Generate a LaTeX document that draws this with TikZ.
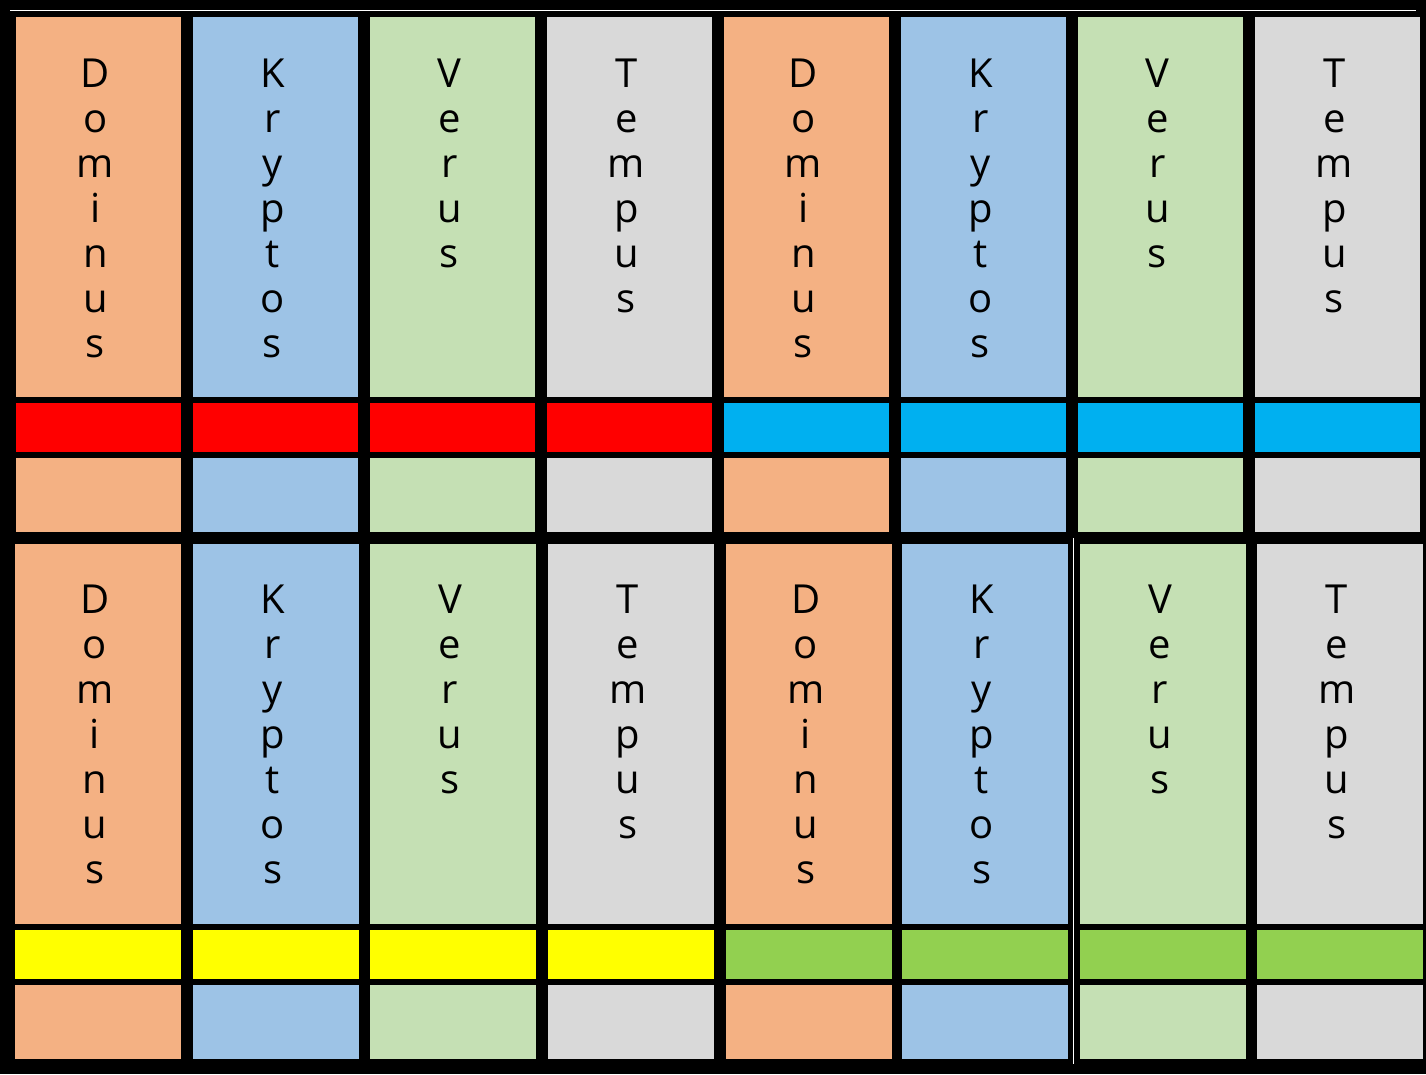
\documentclass[tikz,border=0pt]{standalone}
\usepackage{fontspec}
\setmainfont{Open Sans}
\definecolor{cor}{HTML}{F4B183}
\definecolor{cbl}{HTML}{9DC3E6}
\definecolor{cgr}{HTML}{C5E0B4}
\definecolor{cgy}{HTML}{D9D9D9}
\definecolor{cred}{HTML}{FF0000}
\definecolor{ccy}{HTML}{00B0F0}
\definecolor{cye}{HTML}{FFFF00}
\definecolor{clg}{HTML}{92D050}
\tikzset{
  blk/.style={rectangle, draw=none, inner sep=0pt, outer sep=0pt},
  ltr/.style={inner sep=0pt, outer sep=0pt, text=black, font=\fontsize{40}{45}\selectfont, anchor=base},
  wline/.style={draw=white, line width=1.3pt}
}
\begin{document}
\begin{tikzpicture}[x=1pt,y=-1pt]
\useasboundingbox (0,0) rectangle (1426,1074);
\fill[black] (0,0) rectangle (1426,1074);
% top row
\foreach \k/\x/\word/\fc/\bc in {
  0/16/{D,o,m,i,n,u,s}/cor/cred,
  1/193/{K,r,y,p,t,o,s}/cbl/cred,
  2/370/{V,e,r,u,s}/cgr/cred,
  3/547/{T,e,m,p,u,s}/cgy/cred,
  4/724/{D,o,m,i,n,u,s}/cor/ccy,
  5/901/{K,r,y,p,t,o,s}/cbl/ccy,
  6/1078/{V,e,r,u,s}/cgr/ccy,
  7/1255/{T,e,m,p,u,s}/cgy/ccy}{
  \node[blk, fill=\fc, minimum width=165pt, minimum height=380pt] (ta\k) at (\x+82.5,207) {};
  \node[blk, fill=\bc, minimum width=165pt, minimum height=49pt] (tb\k) at (\x+82.5,427.5) {};
  \node[blk, fill=\fc, minimum width=165pt, minimum height=74pt] (tc\k) at (\x+82.5,495) {};
  \foreach \ch [count=\j] in \word {
    \node[ltr] (tl\k-\j) at (\x+79.5,42+45*\j) {\ch};
  }
}
% bottom row
\foreach \k/\x/\word/\fc/\bc in {
  0/15/{D,o,m,i,n,u,s}/cor/cye,
  1/193/{K,r,y,p,t,o,s}/cbl/cye,
  2/370/{V,e,r,u,s}/cgr/cye,
  3/548/{T,e,m,p,u,s}/cgy/cye,
  4/726/{D,o,m,i,n,u,s}/cor/clg,
  5/902/{K,r,y,p,t,o,s}/cbl/clg,
  6/1080/{V,e,r,u,s}/cgr/clg,
  7/1257/{T,e,m,p,u,s}/cgy/clg}{
  \node[blk, fill=\fc, minimum width=166pt, minimum height=380pt] (ba\k) at (\x+83,734) {};
  \node[blk, fill=\bc, minimum width=166pt, minimum height=49pt] (bb\k) at (\x+83,954.5) {};
  \node[blk, fill=\fc, minimum width=166pt, minimum height=74pt] (bc\k) at (\x+83,1022) {};
  \foreach \ch [count=\j] in \word {
    \node[ltr] (bl\k-\j) at (\x+80,568+45*\j) {\ch};
  }
}
% thin white lines
\coordinate (w1) at (10,10.5);
\coordinate (w2) at (1416,10.5);
\draw[wline] (w1) -- (w2);
\coordinate (w3) at (1073.3,538);
\coordinate (w4) at (1073.3,1064);
\draw[wline, line width=1pt] (w3) -- (w4);
\end{tikzpicture}
\end{document}
